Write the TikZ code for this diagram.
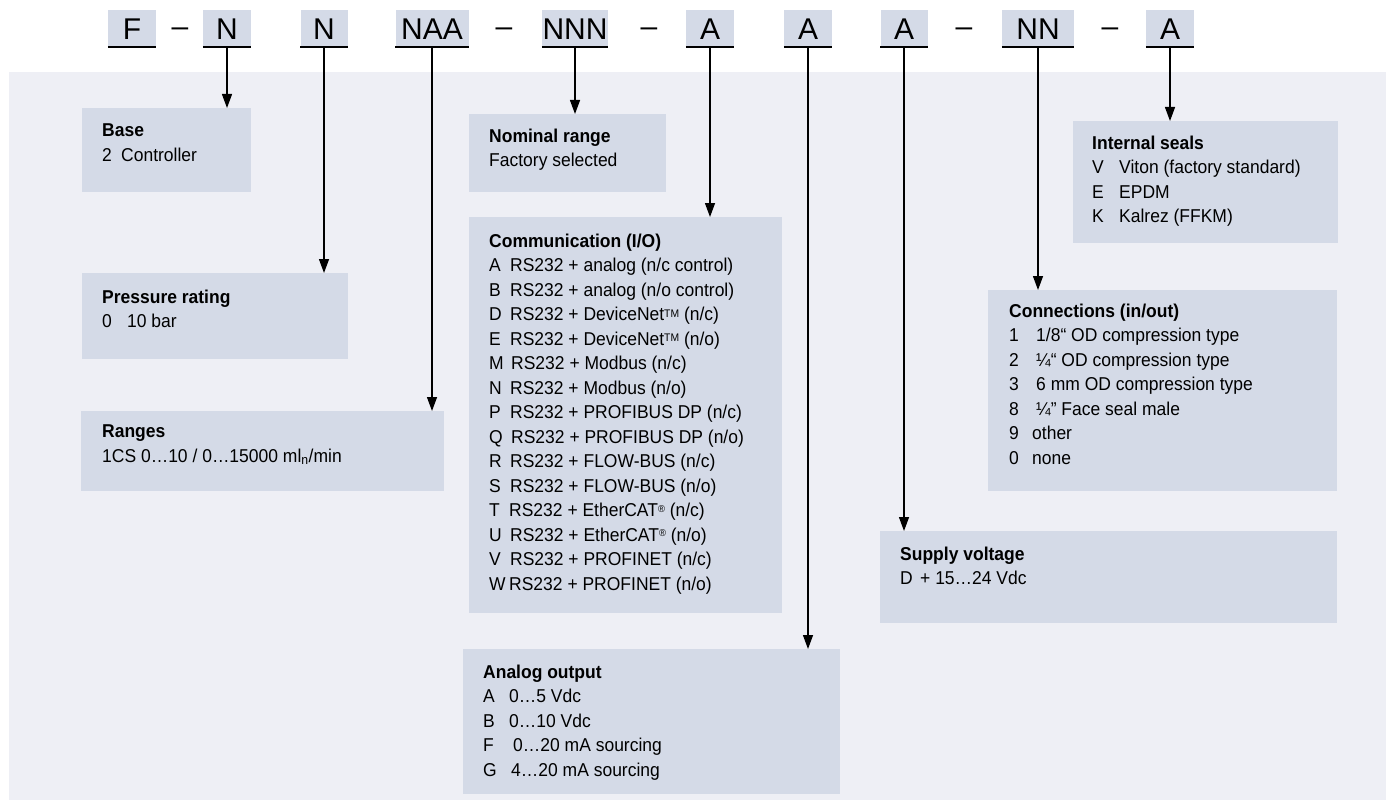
\documentclass[tikz,border=0pt]{standalone}
\usepackage{fontspec}
\setmainfont{Liberation Sans}
\newfontfamily\bodyfam{Liberation Sans}[FakeStretch=0.94]
\usetikzlibrary{arrows.meta,calc}
\definecolor{panelbg}{HTML}{EEEFF5}
\definecolor{boxfill}{HTML}{D4DAE7}
\newcommand{\codefont}{\fontsize{30pt}{36pt}\selectfont}
\newcommand{\bodyfont}{\bodyfam\fontsize{18.6pt}{24.5pt}\selectfont}
\newcommand{\optrow}[3]{\makebox[#1][l]{#2}#3}
\newcommand{\regmark}{\raisebox{0.45ex}{\fontsize{10pt}{10pt}\selectfont ®}}
\newcommand{\tmmark}{\raisebox{0.35ex}{\fontsize{11pt}{11pt}\selectfont TM}}
\tikzset{
  codebox/.style={fill=boxfill, minimum height=37pt, inner sep=0pt, font=\codefont, text height=21.5pt, text depth=0pt},
  dashmark/.style={font=\codefont, anchor=base, inner sep=0pt},
  uline/.style={line width=2pt},
  infobox/.style={fill=boxfill, anchor=north west, inner sep=0pt},
  infotext/.style={anchor=north west, inner sep=0pt, align=left, font=\bodyfont},
  conn/.style={line width=1.3pt, -{Triangle[length=14pt,width=10pt]}}
}
\begin{document}
\begin{tikzpicture}[x=1pt,y=-1pt]
\useasboundingbox (0,0) rectangle (1391,805);
\fill[panelbg] (9,72) rectangle (1386,800);

% code boxes
\node[codebox, minimum width=48pt] (cF)   at (132,28.5) {F};
\node[codebox, minimum width=48pt] (cN1)  at (227,28.5) {N};
\node[codebox, minimum width=47pt] (cN2)  at (324,28.5) {N};
\node[codebox, minimum width=73pt] (cNAA) at (432,28.5) {NAA};
\node[codebox, minimum width=66pt] (cNNN) at (575,28.5) {NNN};
\node[codebox, minimum width=48pt] (cA1)  at (710,28.5) {A};
\node[codebox, minimum width=48pt] (cA2)  at (808,28.5) {A};
\node[codebox, minimum width=47pt] (cA3)  at (904,28.5) {A};
\node[codebox, minimum width=72pt] (cNN)  at (1038,28.5) {NN};
\node[codebox, minimum width=48pt] (cA4)  at (1170,28.5) {A};
\foreach \n in {cF,cN1,cN2,cNAA,cNNN,cA1,cA2,cA3,cNN,cA4}
  \draw[uline] (\n.south west) -- (\n.south east);

\node[dashmark] (d1) at (180,37) {–};
\node[dashmark] (d2) at (504,37) {–};
\node[dashmark] (d3) at (649,37) {–};
\node[dashmark] (d4) at (964,37) {–};
\node[dashmark] (d5) at (1110,37) {–};

% info boxes
\node[infobox, minimum width=169pt, minimum height=84pt]  (base)  at (82,108) {};
\node[infobox, minimum width=266pt, minimum height=86pt]  (press) at (82,273) {};
\node[infobox, minimum width=363pt, minimum height=80pt]  (rng)   at (81,411) {};
\node[infobox, minimum width=197pt, minimum height=78pt]  (nom)   at (469,114) {};
\node[infobox, minimum width=313pt, minimum height=396pt] (comm)  at (469,217) {};
\node[infobox, minimum width=377pt, minimum height=145pt] (anout) at (463,649) {};
\node[infobox, minimum width=457pt, minimum height=92pt]  (sup)   at (880,531) {};
\node[infobox, minimum width=349pt, minimum height=201pt] (conx)  at (988,290) {};
\node[infobox, minimum width=265pt, minimum height=122pt] (seal)  at (1073,121) {};

% texts
\node[infotext] (baseT) at ([xshift=20pt,yshift=-15.6pt]base.north west)
  {\textbf{Base}\\\optrow{19pt}{2}{Controller}};
\node[infotext] (pressT) at ([xshift=20pt,yshift=-16.6pt]press.north west)
  {\textbf{Pressure rating}\\\optrow{25pt}{0}{10 bar}};
\node[infotext] (rngT) at ([xshift=21pt,yshift=-13.6pt]rng.north west)
  {\textbf{Ranges}\\1CS 0…10 / 0…15000 ml\textsubscript{n}/min};
\node[infotext] (nomT) at ([xshift=20pt,yshift=-14.6pt]nom.north west)
  {\textbf{Nominal range}\\Factory selected};
\node[infotext] (commT) at ([xshift=20pt,yshift=-16.6pt]comm.north west)
  {\textbf{Communication (I/O)}\\
   \optrow{21pt}{A}{RS232 + analog (n/c control)}\\
   \optrow{21pt}{B}{RS232 + analog (n/o control)}\\
   \optrow{21pt}{D}{RS232 + DeviceNet\tmmark{} (n/c)}\\
   \optrow{21pt}{E}{RS232 + DeviceNet\tmmark{} (n/o)}\\
   \optrow{22pt}{M}{RS232 + Modbus (n/c)}\\
   \optrow{21pt}{N}{RS232 + Modbus (n/o)}\\
   \optrow{21pt}{P}{RS232 + PROFIBUS DP (n/c)}\\
   \optrow{22pt}{Q}{RS232 + PROFIBUS DP (n/o)}\\
   \optrow{21pt}{R}{RS232 + FLOW-BUS (n/c)}\\
   \optrow{21pt}{S}{RS232 + FLOW-BUS (n/o)}\\
   \optrow{20pt}{T}{RS232 + EtherCAT\regmark{} (n/c)}\\
   \optrow{21pt}{U}{RS232 + EtherCAT\regmark{} (n/o)}\\
   \optrow{21pt}{V}{RS232 + PROFINET (n/c)}\\
   \optrow{20pt}{W}{RS232 + PROFINET (n/o)}};
\node[infotext] (anoutT) at ([xshift=20pt,yshift=-15.6pt]anout.north west)
  {\textbf{Analog output}\\
   \optrow{26pt}{A}{0…5 Vdc}\\
   \optrow{26pt}{B}{0…10 Vdc}\\
   \optrow{30pt}{F}{0…20 mA sourcing}\\
   \optrow{28pt}{G}{4…20 mA sourcing}};
\node[infotext] (supT) at ([xshift=20pt,yshift=-15.6pt]sup.north west)
  {\textbf{Supply voltage}\\\optrow{20pt}{D}{+ 15…24 Vdc}};
\node[infotext] (conxT) at ([xshift=21pt,yshift=-13.6pt]conx.north west)
  {\textbf{Connections (in/out)}\\
   \optrow{27pt}{1}{1/8“ OD compression type}\\
   \optrow{27pt}{2}{¼“ OD compression type}\\
   \optrow{27pt}{3}{6 mm OD compression type}\\
   \optrow{27pt}{8}{¼” Face seal male}\\
   \optrow{23pt}{9}{other}\\
   \optrow{23pt}{0}{none}};
\node[infotext] (sealT) at ([xshift=19pt,yshift=-14.6pt]seal.north west)
  {\textbf{Internal seals}\\
   \optrow{27pt}{V}{Viton (factory standard)}\\
   \optrow{27pt}{E}{EPDM}\\
   \optrow{27pt}{K}{Kalrez (FFKM)}};

% connectors
\draw[conn] (cN1.south)  -- (cN1.south  |- base.north);
\draw[conn] (cN2.south)  -- (cN2.south  |- press.north);
\draw[conn] (cNAA.south) -- (cNAA.south |- rng.north);
\draw[conn] (cNNN.south) -- (cNNN.south |- nom.north);
\draw[conn] (cA1.south)  -- (cA1.south  |- comm.north);
\draw[conn] (cA2.south)  -- (cA2.south  |- anout.north);
\draw[conn] (cA3.south)  -- (cA3.south  |- sup.north);
\draw[conn] (cNN.south)  -- (cNN.south  |- conx.north);
\draw[conn] (cA4.south)  -- (cA4.south  |- seal.north);
\end{tikzpicture}
\end{document}
